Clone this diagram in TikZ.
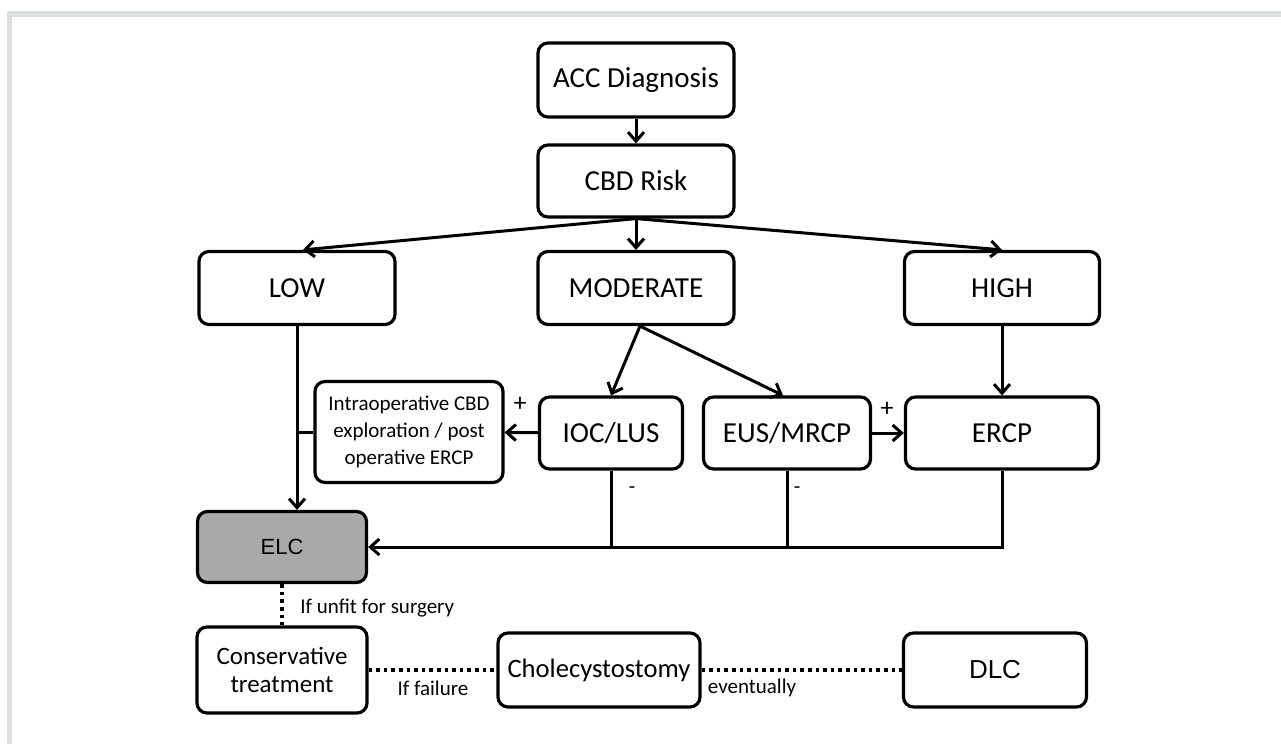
\documentclass[tikz,border=0pt]{standalone}
\usepackage{fontspec}
\setmainfont{Carlito}
\newfontfamily\arialfont{Liberation Sans}
\usetikzlibrary{calc,arrows.meta}
\definecolor{framegrey}{HTML}{DCDFDF}
\definecolor{elcgrey}{HTML}{A9A9A9}

\begin{document}
\begin{tikzpicture}[x=0.5pt,y=-0.5pt,
  box/.style={draw, rounded corners=5pt, line width=1.6pt, align=center, inner sep=2pt,
    font=\fontsize{14.5}{17}\selectfont},
  link/.style={draw, line width=1.5pt},
  tip/.style={-{Straight Barb[length=4.5pt,width=8pt]}},
  dots/.style={draw, line width=1.8pt, dotted},
  note/.style={font=\fontsize{10.5}{12}\selectfont, inner sep=0pt}]
\useasboundingbox (0,0) rectangle (1281,744);
% frame
\fill[framegrey] (7,11) rectangle (12,744);
\fill[framegrey] (7,11) rectangle (1281,17);
% boxes
\node[box, minimum width=98pt, minimum height=37pt] (acc) at (636,80) {ACC Diagnosis};
\node[box, minimum width=98pt, minimum height=36pt] (cbd) at (636,181) {CBD Risk};
\node[box, minimum width=98pt, minimum height=36.5pt] (low) at (297,288) {LOW};
\node[box, minimum width=98pt, minimum height=36.5pt] (moderate) at (636,288) {MODERATE};
\node[box, minimum width=97.5pt, minimum height=36.5pt] (high) at (1002,288) {HIGH};
\node[box, minimum width=94pt, minimum height=50.5pt, font=\fontsize{10.5}{13.3}\selectfont] (intraop) at (409,432) {Intraoperative CBD\\exploration / post\\operative ERCP};
\node[box, minimum width=71.5pt, minimum height=36pt] (ioc) at (611,433) {IOC/LUS};
\node[box, minimum width=83.5pt, minimum height=36pt] (eus) at (787,433) {EUS/MRCP};
\node[box, minimum width=96.5pt, minimum height=36pt] (ercp) at (1002,433) {ERCP};
\node[box, fill=elcgrey, minimum width=84.5pt, minimum height=35.5pt, font=\arialfont\fontsize{11}{13}\selectfont] (elc) at (282,547) {ELC};
\node[box, minimum width=85pt, minimum height=43pt, font=\fontsize{12.5}{14}\selectfont] (cons) at (282,670) {Conservative\\treatment};
\node[box, minimum width=101pt, minimum height=37pt, inner sep=1pt, font=\fontsize{13.3}{16}\selectfont] (chole) at (599,670) {Cholecystostomy};
\node[box, minimum width=91.5pt, minimum height=37pt, font=\arialfont\fontsize{13}{15}\selectfont] (dlc) at (995,670) {DLC};
% arrows
\path[link,tip] (acc) -- (cbd);
\path[link,tip] (cbd.south) -- ($(low.north)+(6,0)$);
\path[link,tip] (cbd) -- (moderate);
\path[link,tip] (cbd.south) -- (high.north);
\path[link,tip] ($(moderate.south)+(4,0)$) -- (ioc.north);
\path[link,tip] ($(moderate.south)+(4,0)$) -- ($(eus.north)+(-4,0)$);
\path[link,tip] (high) -- (ercp);
\path[link,tip] (ioc) -- (intraop);
\path[link,tip] (eus) -- (ercp);
\path[link,tip] (low.south) -- (low.south |- elc.north);
\path[link] (intraop.west) -- (low.south |- intraop.west);
\path[link] (ioc.south) -- (ioc.south |- elc.east);
\path[link] (eus.south) -- (eus.south |- elc.east);
\path[link,tip] (ercp.south) |- (elc.east);
\path[dots] (elc) -- (cons);
\path[dots] (cons) -- (chole);
\path[dots] (chole) -- (dlc);
% labels
\node[note, font=\fontsize{13}{15}\selectfont] (plus1) at (520,404) {+};
\node[note, font=\fontsize{13}{15}\selectfont] (plus2) at (887,409) {+};
\node[note] (minus1) at (632,490) {-};
\node[note] (minus2) at (797,490) {-};
\node[note, anchor=west] (unfit) at (300,608) {If unfit for surgery};
\node[note] (failure) at (433,688) {If failure};
\node[note] (eventually) at (752,688) {eventually};
\end{tikzpicture}
\end{document}
